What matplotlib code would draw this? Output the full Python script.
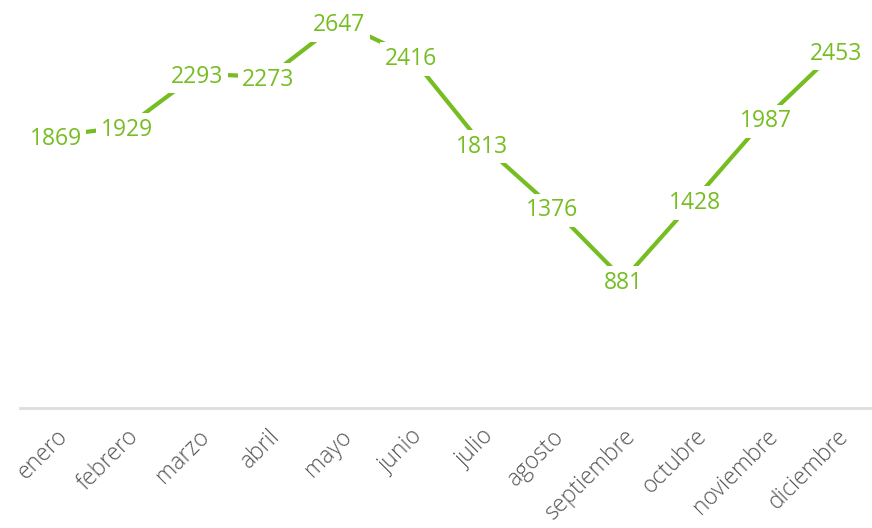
import matplotlib
matplotlib.use("Agg")
import matplotlib.pyplot as plt

months = ["enero", "febrero", "marzo", "abril", "mayo", "junio", "julio",
          "agosto", "septiembre", "octubre", "noviembre", "diciembre"]
values = [1869, 1929, 2293, 2273, 2647, 2416, 1813, 1376, 881, 1428, 1987, 2453]

green = "#76bd22"

plt.rcParams['font.family'] = ['Open Sans', 'DejaVu Sans']

fig = plt.figure(figsize=(8.72, 5.28), dpi=100)
ax = fig.add_axes([20 / 872, 1 - 408 / 528, 852 / 872, 408 / 528])

x = list(range(len(months)))
ax.plot(x, values, color=green, lw=3, solid_capstyle='butt', zorder=2)
for xi, v in zip(x, values):
    ax.text(xi, v, str(v), ha='center', va='center_baseline', fontsize=16.5,
            color=green, zorder=3,
            bbox=dict(boxstyle='square,pad=0.2', fc='white', ec='none'))

ax.set_xlim(-0.5, len(months) - 0.5)
ax.set_ylim(0, 2800)
ax.set_yticks([])
ax.set_xticks(x)
ax.set_xticklabels(months, rotation=45, ha='right', rotation_mode='anchor',
                   fontsize=16.5, color='#555555', fontweight='light')
ax.tick_params(axis='x', length=0, pad=12)
for side in ['top', 'right', 'left']:
    ax.spines[side].set_visible(False)
ax.spines['bottom'].set_color('#dddddd')
ax.spines['bottom'].set_linewidth(2)

fig.savefig("out.png", dpi=100)
